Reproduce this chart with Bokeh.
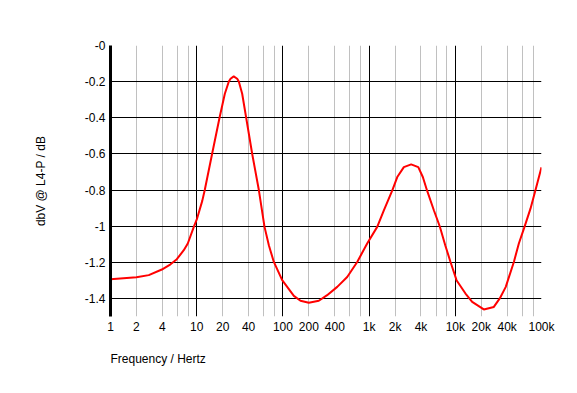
import numpy as np
from bokeh.plotting import figure
from bokeh.models import (Range1d, FixedTicker, Grid, CustomJSTickFormatter, Title)
from bokeh.embed import file_html
from bokeh.resources import INLINE

# Data (frequency in Hz, level in dB)
freq_hz = [1, 2, 2.78, 3.94, 4.97, 5.88, 7.08, 7.88, 9.26, 10.1, 11.6, 12.4,
           15.1, 18.4, 21.2, 23.6, 24.7, 26.9, 29.5, 30.8, 33.7, 37.5, 44,
           52.6, 61.2, 68.7, 78.5, 98.1, 134, 160, 200, 261, 326, 427, 557,
           728, 950, 1242, 1483, 1853, 2122, 2530, 3076, 3720, 4200, 4720,
           5640, 6610, 7690, 8800, 10330, 13130, 15700, 21400, 28000, 32800,
           38500, 47800, 54600, 63500, 74500, 85200, 100000]
level_db = [-1.294, -1.283, -1.271, -1.24, -1.211, -1.183, -1.133, -1.096,
            -1.004, -0.958, -0.86, -0.80,
            -0.599, -0.40, -0.267, -0.199, -0.184, -0.171, -0.184, -0.199,
            -0.267, -0.40, -0.599,
            -0.80, -1.004, -1.106, -1.198, -1.299, -1.386, -1.413, -1.424,
            -1.413, -1.382, -1.336, -1.281,
            -1.198, -1.096, -1.004, -0.912, -0.803, -0.728, -0.673, -0.658,
            -0.673, -0.728, -0.805,
            -0.912, -1.002, -1.11, -1.198, -1.299, -1.373, -1.419, -1.461,
            -1.447, -1.40,
            -1.336, -1.198, -1.096, -1.004, -0.903, -0.80, -0.674]

x_ticks = [1, 2, 4, 10, 20, 40, 100, 200, 400, 1000, 2000, 4000,
           10000, 20000, 40000, 100000]
x_labels = ["1", "2", "4", "10", "20", "40", "100", "200", "400", "1k", "2k", "4k",
            "10k", "20k", "40k", "100k"]
x_major_grid = [1, 10, 100, 1000, 10000, 100000]
x_minor_grid = [m * d for d in [1, 10, 100, 1000, 10000] for m in (2, 4, 6, 8)]
y_ticks = [0, -0.2, -0.4, -0.6, -0.8, -1.0, -1.2, -1.4]
y_labels = ["-0", "-0.2", "-0.4", "-0.6", "-0.8", "-1", "-1.2", "-1.4"]

FONT = "Liberation Sans"

p = figure(width=569, height=385, x_axis_type="log",
           x_range=Range1d(1, 100000), y_range=Range1d(-1.5, 0),
           output_backend="svg", toolbar_location=None,
           min_border_left=110, min_border_right=28,
           min_border_top=45, min_border_bottom=69)
p.outline_line_color = None
p.background_fill_color = "white"
p.border_fill_color = "white"

p.xgrid.visible = False
p.ygrid.visible = False

minor = Grid(dimension=0, ticker=FixedTicker(ticks=x_minor_grid),
             grid_line_color="#c0c0c0", grid_line_width=1)
major_x = Grid(dimension=0, ticker=FixedTicker(ticks=x_major_grid),
               grid_line_color="black", grid_line_width=1)
major_y = Grid(dimension=1, ticker=FixedTicker(ticks=y_ticks),
               grid_line_color="black", grid_line_width=1)
p.add_layout(minor)
p.add_layout(major_x)
p.add_layout(major_y)

p.line(freq_hz, level_db, line_color="#ff0000", line_width=2)

xa = p.xaxis[0]
xa.ticker = FixedTicker(ticks=x_ticks)
xa.formatter = CustomJSTickFormatter(args=dict(t=x_ticks, l=x_labels), code="""
for (let i = 0; i < t.length; i++) {
  if (Math.abs(Math.log10(tick) - Math.log10(t[i])) < 1e-6) return l[i];
}
return "";
""")
xa.axis_line_color = None
xa.major_tick_line_color = None
xa.minor_tick_line_color = None
xa.major_tick_out = 0
xa.major_tick_in = 0
xa.minor_tick_out = 0
xa.major_label_standoff = 3
xa.major_label_text_font = FONT
xa.major_label_text_font_size = "12px"
xa.major_label_text_color = "black"

ya = p.yaxis[0]
ya.ticker = FixedTicker(ticks=y_ticks)
ya.formatter = CustomJSTickFormatter(args=dict(t=y_ticks, l=y_labels), code="""
for (let i = 0; i < t.length; i++) {
  if (Math.abs(tick - t[i]) < 1e-6) return l[i];
}
return "";
""")
ya.axis_line_color = "black"
ya.axis_line_width = 3
ya.major_tick_line_color = None
ya.minor_tick_line_color = None
ya.major_tick_out = 0
ya.major_tick_in = 0
ya.minor_tick_out = 0
ya.major_label_standoff = 5
ya.major_label_text_font = FONT
ya.major_label_text_font_size = "12px"
ya.major_label_text_color = "black"
ya.axis_label = "dbV @ L4-P / dB"
ya.axis_label_text_font = FONT
ya.axis_label_text_font_size = "12px"
ya.axis_label_text_font_style = "normal"
ya.axis_label_text_color = "black"
ya.axis_label_standoff = 34

p.add_layout(Title(text="Frequency / Hertz", align="left", text_font=FONT,
                   text_font_size="12px", text_font_style="normal",
                   text_color="black", standoff=26), "below")

open("out.html", "w").write(file_html(p, INLINE))
